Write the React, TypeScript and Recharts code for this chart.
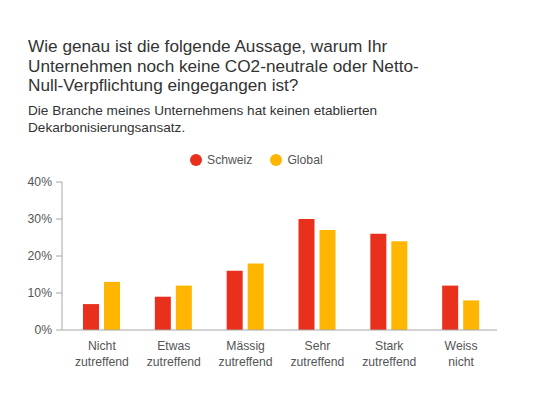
import React from 'react';
import { BarChart, Bar, XAxis, YAxis } from 'recharts';

const CATEGORIES = ['Nicht\nzutreffend', 'Etwas\nzutreffend', 'Mässig\nzutreffend', 'Sehr\nzutreffend', 'Stark\nzutreffend', 'Weiss\nnicht'];
const SCHWEIZ = [7, 9, 16, 30, 26, 12];
const GLOBAL = [13, 12, 18, 27, 24, 8];
const Y_TICKS = [0, 10, 20, 30, 40];

const RED = '#E8301C';
const YELLOW = '#FFB600';
const AXIS = '#a6a6a6';
const TEXT = '#555';
const FONT = '"Liberation Sans", Arial, Helvetica, sans-serif';

const data = CATEGORIES.map((c, i) => ({ cat: c, schweiz: SCHWEIZ[i], global: GLOBAL[i] }));

function CatTick({ x, y, payload }: any) {
  const lines = String(payload.value).split('\n');
  return (
    <text x={x} y={y} textAnchor="middle" fontSize={12.2} fill={TEXT} fontFamily={FONT}>
      {lines.map((l, i) => (
        <tspan key={i} x={x} dy={i === 0 ? 12 : 15.5}>{l}</tspan>
      ))}
    </text>
  );
}

function LegendRow() {
  const items = [{ label: 'Schweiz', color: RED }, { label: 'Global', color: YELLOW }];
  return (
    <div style={{ position: 'absolute', left: 190, top: 153, display: 'flex', gap: 18, fontSize: 12.2, color: TEXT }}>
      {items.map(it => (
        <div key={it.label} style={{ display: 'flex', alignItems: 'center', gap: 5 }}>
          <span style={{ width: 12, height: 12, borderRadius: 6, background: it.color, display: 'inline-block' }} />
          {it.label}
        </div>
      ))}
    </div>
  );
}

export default function App() {
  return (
    <div style={{ position: 'absolute', left: 0, top: 0, width: 540, height: 405, background: '#fff', fontFamily: FONT }}>
      <div style={{ position: 'absolute', left: 28, top: 37, width: 480, fontSize: 17.2, lineHeight: '19.5px', color: '#333' }}>
        Wie genau ist die folgende Aussage, warum Ihr<br />
        Unternehmen noch keine CO2-neutrale oder Netto-<br />
        Null-Verpflichtung eingegangen ist?
      </div>
      <div style={{ position: 'absolute', left: 28, top: 103, width: 480, fontSize: 13.6, lineHeight: '16.5px', color: '#333' }}>
        Die Branche meines Unternehmens hat keinen etablierten<br />
        Dekarbonisierungsansatz.
      </div>
      <LegendRow />
      <div style={{ position: 'absolute', left: 0, top: 0 }}>
        <BarChart width={540} height={405} data={data} barSize={16} barGap={5}
          margin={{ top: 182, right: 43, left: 0, bottom: 35 }}>
          <XAxis dataKey="cat" tick={<CatTick />} tickLine={false} interval={0}
            axisLine={{ stroke: AXIS }} padding={{ left: 4, right: 0 }} height={40} />
          <YAxis domain={[0, 40]} ticks={Y_TICKS} width={62} tickFormatter={v => `${v}%`}
            tick={{ fontSize: 12.2, fill: TEXT, fontFamily: FONT }}
            axisLine={{ stroke: AXIS }} tickLine={{ stroke: AXIS }} tickSize={6} tickMargin={4} />
          <Bar dataKey="schweiz" name="Schweiz" fill={RED} isAnimationActive={false} />
          <Bar dataKey="global" name="Global" fill={YELLOW} isAnimationActive={false} />
        </BarChart>
      </div>
    </div>
  );
}
